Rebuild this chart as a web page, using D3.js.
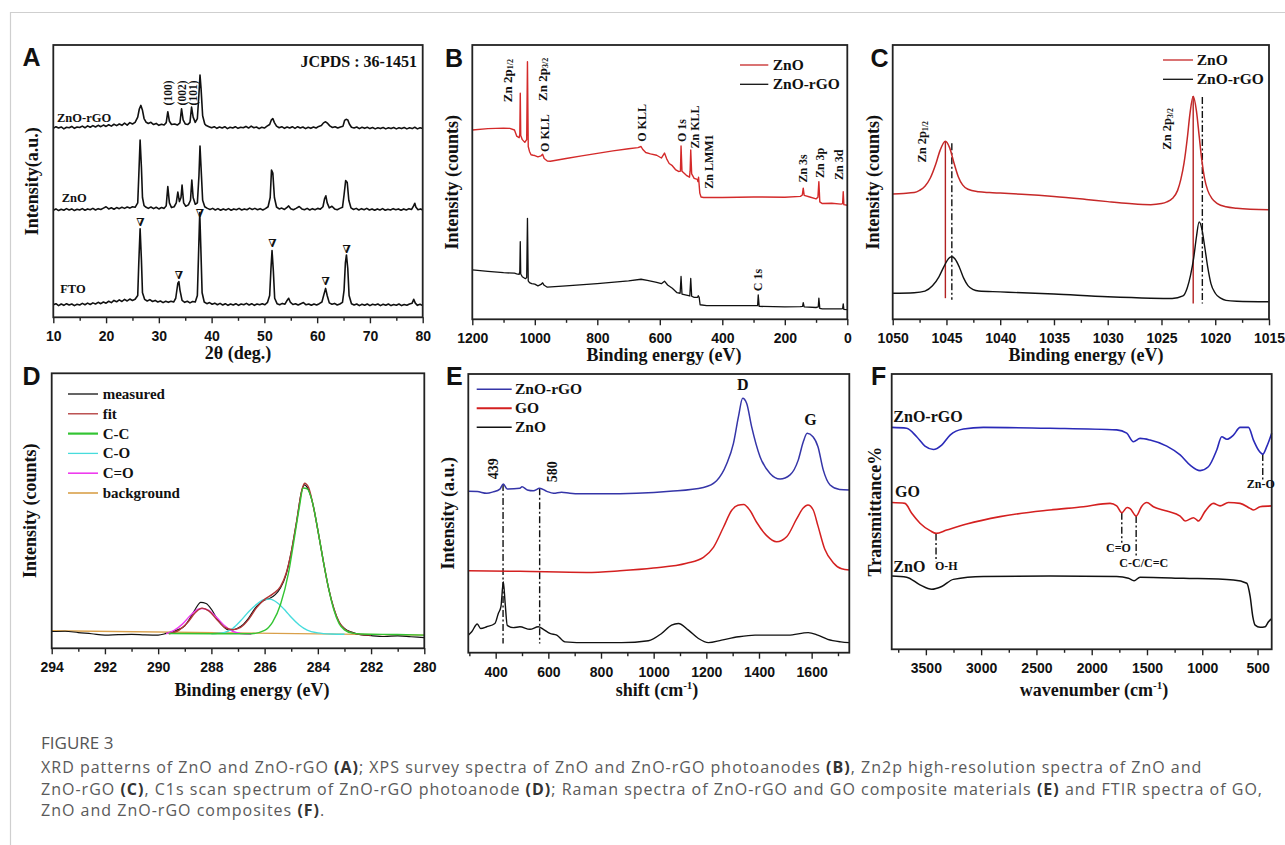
<!DOCTYPE html>
<html>
<head>
<meta charset="utf-8">
<script src="https://cdn.jsdelivr.net/npm/d3@7"></script>
<style>
	body { margin: 0; background: #fff; }
	svg { display: block; }
	.axis text { font-family: "Liberation Sans", Arial, sans-serif; font-weight: bold; font-size: 14px; fill: #111; }
	.axis line { stroke: #222; stroke-width: 1.4; }
</style>
</head>
<body>
<div id="chartDiv"></div>
<script>

// ---------- data (x value, intensity in % of plot height) ----------

// A: XRD
var xrdZnOrGO = [[10,69.4],[10.5,70.0],[11,69.5],[11.5,69.9],[12,69.2],[12.5,69.8],[13,69.6],[13.5,70.1],[14,69.4],[14.5,69.9],[15,69.7],[15.5,70.2],[16,69.6],[16.5,70.3],[17,69.8],[17.5,70.4],[18,69.9],[18.5,70.5],[19,70.0],[19.5,70.6],[20,70.1],[20.5,70.7],[21,70.2],[21.5,70.9],[22,70.4],[22.5,71.0],[23,70.5],[23.5,71.3],[24,70.6],[24.5,71.5],[25,71.0],[25.5,71.6],[26,73.5],[26.3,76.5],[26.6,77.8],[26.9,76.0],[27.2,73],[27.6,71.6],[28,71.2],[28.5,71.6],[29,70.8],[29.5,71.2],[30,70.5],[30.5,70.9],[31,70.6],[31.4,71.5],[31.7,75.5],[32,72],[32.4,70.8],[33,71.0],[33.5,70.6],[34,71.4],[34.3,76.6],[34.6,72.5],[35,71.0],[35.5,70.8],[35.9,71.6],[36.2,77.2],[36.5,73.5],[36.9,71.6],[37.3,73],[37.6,82],[37.8,89],[38.0,84],[38.3,74],[38.7,71],[39,70.4],[39.5,70.0],[40,69.6],[40.5,70.0],[41,69.4],[41.5,69.9],[42,69.5],[42.5,70.0],[43,69.3],[43.5,69.8],[44,69.5],[44.5,70.0],[45,69.4],[45.5,69.8],[46,69.6],[46.5,70.1],[47,69.5],[47.5,70.2],[48,69.6],[48.5,69.9],[49,69.3],[49.5,69.8],[50,69.5],[50.5,70.2],[51,70.8],[51.3,72.4],[51.6,73],[51.9,71.5],[52.3,70.2],[52.8,69.6],[53.3,70.0],[53.8,69.4],[54.3,69.9],[54.8,69.5],[55.3,70.0],[55.8,69.4],[56.3,70.0],[56.8,69.5],[57.3,69.9],[57.8,69.3],[58.3,69.8],[58.8,69.4],[59.3,69.9],[59.8,69.5],[60.3,70.1],[60.8,70.4],[61.2,71.4],[61.6,71.8],[62,71.2],[62.4,70.3],[62.9,69.7],[63.4,70.0],[63.9,69.5],[64.4,69.9],[64.9,70.2],[65.2,72.3],[65.5,72.7],[65.8,72.5],[66.1,71],[66.5,69.8],[67,69.5],[67.5,69.9],[68,69.3],[68.5,69.8],[69,69.4],[69.5,69.8],[70,69.3],[70.5,69.7],[71,69.2],[71.5,69.6],[72,69.3],[72.5,69.7],[73,69.2],[73.5,69.6],[74,69.3],[74.5,69.7],[75,69.2],[75.5,69.6],[76,69.3],[76.5,69.7],[77,69.2],[77.5,69.6],[78,69.3],[78.5,69.8],[79,69.2],[79.5,69.6],[80,69.3]]

var xrdZnO = [[10,39.3],[10.5,39.8],[11,39.2],[11.5,39.7],[12,39.3],[12.5,39.9],[13,39.4],[13.5,39.8],[14,39.2],[14.5,39.7],[15,39.4],[15.5,39.9],[16,39.3],[16.5,39.8],[17,39.5],[17.5,40.0],[18,39.4],[18.5,39.9],[19,39.6],[19.5,40.1],[20,40.6],[20.5,39.8],[21,40.2],[21.5,39.7],[22,40.3],[22.5,39.9],[23,40.4],[23.5,40.0],[24,40.5],[24.5,40.1],[25,40.6],[25.5,40.4],[26,42],[26.2,52],[26.45,65.1],[26.7,55],[26.9,44],[27.2,41],[27.6,40.4],[28,40.0],[28.5,40.5],[29,39.9],[29.5,40.4],[30,39.8],[30.5,40.3],[31,40.0],[31.4,41],[31.7,48],[32,42],[32.4,40.3],[32.9,40.6],[33.3,42],[33.6,46],[33.9,42.5],[34.2,44],[34.4,48.6],[34.7,42],[35.1,40.8],[35.6,41.3],[36,43],[36.25,50.4],[36.5,44],[36.9,41.5],[37.3,42],[37.6,52],[37.8,62.9],[38.0,55],[38.3,43],[38.7,40.6],[39.2,40.0],[39.7,39.6],[40.2,40.0],[40.7,39.4],[41.2,39.9],[41.7,39.3],[42.2,39.8],[42.7,39.4],[43.2,39.9],[43.7,39.3],[44.2,39.8],[44.7,39.5],[45.2,40.0],[45.7,39.4],[46.2,39.8],[46.7,39.5],[47.2,40.1],[47.7,39.6],[48.2,40.0],[48.7,39.5],[49.2,39.9],[49.7,39.4],[50.2,39.9],[50.7,40.6],[51.1,44],[51.35,54.1],[51.6,53],[51.9,44],[52.3,40.5],[52.8,39.8],[53.3,40.1],[53.8,39.6],[54.3,40.4],[54.6,40.9],[55,39.9],[55.5,39.5],[56,40.0],[56.6,40.7],[57.1,39.8],[57.6,39.5],[58.1,40.0],[58.6,39.4],[59.1,39.9],[59.6,39.5],[60.1,40.0],[60.6,39.7],[61.1,40.6],[61.4,43.5],[61.65,44.6],[61.9,42],[62.3,40.2],[62.8,40.8],[63.3,39.8],[63.8,39.5],[64.3,40.0],[64.8,40.4],[65.1,45],[65.4,50.2],[65.7,49.5],[66,43],[66.4,40.2],[66.9,39.6],[67.4,40.0],[67.9,39.4],[68.4,39.9],[68.9,39.5],[69.4,40.0],[69.9,39.4],[70.4,39.8],[70.9,39.3],[71.4,39.8],[71.9,39.4],[72.4,39.9],[72.9,39.3],[73.4,39.7],[73.9,39.4],[74.4,39.9],[74.9,39.5],[75.4,39.8],[75.9,39.3],[76.4,39.8],[76.9,39.4],[77.4,39.9],[77.9,39.6],[78.3,41],[78.5,41.9],[78.7,40.5],[79.1,39.5],[79.6,39.8],[80,39.4]]

var xrdFTO = [[10,4.6],[10.5,5.0],[11,4.3],[11.5,4.9],[12,4.4],[12.5,5.0],[13,4.5],[13.5,4.9],[14,4.3],[14.5,4.8],[15,4.5],[15.5,5.1],[16,4.6],[16.5,5.2],[17,4.7],[17.5,5.3],[18,4.9],[18.5,5.5],[19,5.0],[19.5,5.6],[20,5.2],[20.5,5.9],[21,5.4],[21.5,6.2],[22,5.7],[22.5,6.4],[23,5.8],[23.5,6.6],[24,6.0],[24.5,6.7],[25,6.2],[25.5,6.6],[26,8],[26.2,20],[26.45,32.5],[26.7,21],[26.9,9],[27.3,6.6],[27.8,6.0],[28.3,6.5],[28.8,5.8],[29.3,6.2],[29.8,5.6],[30.3,6.0],[30.8,5.4],[31.3,5.9],[31.8,5.5],[32.3,5.9],[32.8,5.6],[33.2,7],[33.6,12.5],[33.8,13.1],[34.0,10],[34.4,6.2],[34.9,5.5],[35.4,5.9],[35.9,5.3],[36.4,5.8],[36.9,5.6],[37.3,8],[37.55,25],[37.75,38.5],[37.95,26],[38.2,9],[38.6,5.6],[39.1,5.0],[39.6,5.4],[40.1,4.8],[40.6,5.2],[41.1,4.6],[41.6,5.1],[42.1,4.5],[42.6,5.0],[43.1,4.4],[43.6,4.9],[44.1,4.5],[44.6,5.0],[45.1,4.4],[45.6,4.9],[46.1,4.6],[46.6,5.1],[47.1,4.5],[47.6,5.0],[48.1,4.4],[48.6,4.9],[49.1,4.6],[49.6,5.0],[50.1,4.6],[50.6,5.5],[51.0,8],[51.25,18],[51.45,24.5],[51.7,17],[51.95,7],[52.4,5.0],[52.9,4.6],[53.4,5.1],[53.9,4.8],[54.3,6.2],[54.6,7.0],[54.9,5.6],[55.4,4.7],[55.9,5.0],[56.4,4.5],[56.9,5.0],[57.4,5.4],[57.9,4.6],[58.4,4.9],[58.9,4.4],[59.4,4.9],[59.9,4.5],[60.4,5.0],[60.9,5.6],[61.3,8.5],[61.6,10.6],[61.9,8],[62.3,5.3],[62.8,4.8],[63.3,5.1],[63.8,4.5],[64.3,4.9],[64.8,5.5],[65.1,10],[65.35,20],[65.55,22.9],[65.8,18],[66.05,8],[66.5,5.0],[67,4.5],[67.5,4.9],[68,4.3],[68.5,4.8],[69,4.4],[69.5,4.9],[70,4.3],[70.5,4.8],[71,4.5],[71.5,4.9],[72,4.3],[72.5,4.8],[73,4.4],[73.5,4.9],[74,4.3],[74.5,4.7],[75,4.4],[75.5,4.9],[76,4.3],[76.5,4.7],[77,4.4],[77.5,4.9],[78,5.2],[78.3,6.6],[78.6,5.2],[79,4.4],[79.5,4.8],[80,4.3]]

var ftoMarks = [[26.5,34.8],[33.8,15.2],[37.8,38.3],[51.5,27],[61.6,13],[65.6,25]]
var hklLabels = [["(100)",31.8],["(002)",34.3],["(101)",36.4]]
var xrdNames = [["ZnO-rGO",10.7,71.8],["ZnO",11.6,42.5],["FTO",11.3,8.9]]

// B: XPS survey
var xpsZnO = [[1200,69.0],[1150,69.5],[1100,69.7],[1080,69.6],[1065,69.0],[1058,66.8],[1050,66.2],[1048,67.5],[1046.5,82.4],[1045,67],[1040,65.5],[1032,64.5],[1026,65.5],[1023.5,93.9],[1021,63],[1017,61.2],[1012,60.0],[1005,59.8],[1000,59.7],[990,59.2],[980,59.6],[975,60.2],[970,58.6],[960,57.7],[950,57.6],[900,58.6],[850,59.6],[800,60.5],[750,61.4],[700,62.2],[670,62.6],[660,63.0],[655,62.0],[645,60.8],[630,60.3],[610,59.8],[595,58.8],[585,60.6],[578,58.5],[570,56.8],[560,56.0],[550,54.6],[540,53.9],[534,54.0],[532,63.2],[529,54.0],[515,52.5],[505,51.8],[503,54],[501,61.7],[498,53],[490,51.4],[480,51.0],[478,50.2],[477,50.8],[476,51.8],[472,46.0],[468,44.6],[460,44.4],[400,44.4],[300,44.6],[200,44.5],[150,44.8],[144,45.3],[141,47.8],[138,45.2],[120,44.6],[100,43.9],[94,44.5],[91,50.2],[88,42.8],[80,42.2],[50,42.3],[20,42.0],[15,42.2],[13,46.5],[11,41.8],[0,41.6]]
var xpsZnOrGO = [[1200,18.0],[1150,17.5],[1100,17.0],[1065,16.8],[1058,16.6],[1050,16.4],[1048,17.5],[1046.5,28.3],[1045,16.5],[1040,15.5],[1030,14.8],[1026,15.2],[1023.5,36.8],[1021,14],[1017,13.4],[1010,13.0],[1000,12.8],[990,12.2],[980,12.7],[975,13.3],[970,12.4],[960,11.7],[900,12.2],[800,13.0],[700,14.0],[660,14.6],[640,14.2],[610,13.5],[595,13.0],[585,13.9],[575,12.5],[560,11.3],[545,9.7],[535,9.5],[532,15.6],[529,9.2],[515,8.8],[504,8.5],[501,14.9],[498,8.4],[490,8.0],[479,8.0],[477,8.6],[474,8.0],[471,5.3],[450,5.0],[350,5.0],[295,5.0],[287,5.0],[285,8.9],[282,4.7],[200,4.5],[150,4.6],[143,4.7],[141,6.1],[138,4.5],[100,4.3],[93,4.5],[91,7.7],[88,4.0],[80,3.8],[20,3.8],[15,3.9],[13,5.6],[11,3.6],[0,3.5]]
var xpsLabels = [
	["Zn 2p","1/2",1088,87,13],["Zn 2p","3/2",978,87.5,13],["O KLL","",967,67.9,12],
	["O KLL","",658,71.6,12],["O 1s","",530,68.8,12],["Zn KLL","",487,70.1,12],
	["Zn LMM1","",442,57.5,12],["Zn 3s","",143,55,12],["Zn 3p","",87,57,12],
	["Zn 3d","",26,56.3,12],["C 1s","",285,14.3,12]
]

// C: Zn 2p
var zn2pZnO = [[1050,45.7],[1049,45.9],[1048,46.2],[1047.5,47.0],[1047,48.5],[1046.5,51.5],[1046,56.5],[1045.6,61.5],[1045.1,64.9],[1044.7,62.5],[1044.3,57],[1043.9,52],[1043.5,49],[1043,47.4],[1042,46.5],[1041,46.2],[1040,46.0],[1038,45.6],[1035,44.8],[1032,43.7],[1030,42.9],[1028,42.2],[1026,41.8],[1025,42.2],[1024.5,42.8],[1024,44],[1023.5,47],[1023.2,51],[1022.9,57],[1022.6,66],[1022.35,75],[1022.05,81.3],[1021.75,76],[1021.5,67],[1021.25,58],[1021,51.5],[1020.7,47],[1020.3,44],[1019.8,42.2],[1019,41],[1018,40.5],[1015,39.9]]
var zn2pZnOrGO = [[1050,9.5],[1048,9.7],[1047,10.3],[1046.3,12.2],[1045.7,15.5],[1045.2,19.5],[1044.8,22.2],[1044.5,22.8],[1044.2,22],[1043.8,19],[1043.4,15],[1043,12.3],[1042.5,10.8],[1042,10.3],[1040,10.0],[1035,9.2],[1030,8.2],[1026,7.7],[1024,7.6],[1023,8.5],[1022.6,11.5],[1022.3,16],[1022,22.5],[1021.75,30],[1021.5,35.5],[1021.25,33],[1021,27],[1020.7,19],[1020.4,13],[1020,9.5],[1019.5,7.7],[1019,6.9],[1018,6.6],[1015,6.4]]
var zn2pLinesZnO = [[1045.1,65,7.7],[1022.05,81.4,5.8]]
var zn2pLinesZnOrGO = [[1044.5,64.2,7.1],[1021.2,81,5.8]]
var zn2pLabels = [["Zn 2p","1/2",1047.3,64.7],["Zn 2p","3/2",1024.5,69.4]]

// D: C1s
var c1sMeasured = [[294,6.1],[293.5,6.2],[293,5.7],[292.5,5.3],[292,4.8],[291.5,5.0],[291,5.1],[290.5,4.9],[290,4.8],[289.7,5.4],[289.3,6.6],[289,8.2],[288.8,11],[288.6,14.3],[288.4,16.7],[288.2,16.3],[288,14.2],[287.8,11],[287.6,8.5],[287.4,6.8],[287.2,6.7],[287,7.4],[286.8,8.7],[286.6,11],[286.4,14],[286.2,16.2],[286,17.6],[285.8,18.2],[285.6,19.5],[285.4,22],[285.2,26.6],[285,35],[284.8,46],[284.6,57.5],[284.5,59.4],[284.4,58.5],[284.2,53],[284,43],[283.8,32],[283.6,22],[283.4,14.5],[283.2,9.5],[283,7.2],[282.7,5.8],[282.4,5.0],[282,4.6],[281.5,4.3],[281,4.5],[280.5,4.2],[280,3.9]]
var c1sFit = [[289.6,5.3],[289.2,6.7],[288.9,9.3],[288.6,13],[288.35,14.6],[288.1,13.6],[287.8,10.5],[287.5,7.6],[287.2,6.8],[286.9,7.6],[286.6,10.5],[286.3,14.8],[286,17.8],[285.7,19.7],[285.4,22.5],[285.2,27],[285,35],[284.8,46],[284.6,57.5],[284.5,60],[284.35,58.5],[284.2,53],[284,43],[283.8,32],[283.6,22],[283.4,14.5],[283.2,9.5],[283,7],[282.7,5.6],[282.4,5],[282,4.8]]
var c1sCC = [[289.6,5.4],[287,5.3],[286.5,5.3],[286,6.5],[285.7,9.5],[285.4,16],[285.1,27.5],[284.9,39],[284.7,51],[284.55,58.3],[284.4,58],[284.2,53],[284,43],[283.8,32],[283.6,22],[283.4,14],[283.2,9],[283,6.7],[282.7,5.5],[282.4,5.2],[281,5.0],[280,4.8]]
var c1sCO = [[288,5.3],[287.5,5.8],[287.2,7.2],[286.9,10],[286.6,13.3],[286.3,16],[286,17.8],[285.8,17.9],[285.5,16.4],[285.2,13.5],[285,11.3],[284.7,8.5],[284.4,6.6],[284,5.6],[283.5,5.2],[283,5.1]]
var c1sCdO = [[289.7,5.3],[289.4,6.5],[289.1,8.7],[288.8,11.8],[288.5,14.2],[288.35,14.5],[288.1,13.8],[287.8,11.2],[287.5,8.2],[287.2,6.2],[286.9,5.4],[286.5,5.1]]
var c1sBackground = [[294,6.4],[280,4.8]]
var c1sNames = ["measured","fit","C-C","C-O","C=O","background"]

// E: Raman
var ramanZnOrGO = [[296,57.9],[330,57.8],[366,57.2],[390,57.7],[416,58.7],[429,60.5],[444,58.7],[492,59.0],[500,59.5],[520,58.4],[543,58.1],[567,59.0],[594,57.9],[620,57.2],[650,57.6],[682,57.2],[720,57.0],[809,57.0],[935,57.2],[1062,57.9],[1189,59.3],[1239,61.7],[1277,67.7],[1303,75.1],[1322,84.7],[1338,91.3],[1353,89.5],[1372,81.1],[1404,70.3],[1442,64.3],[1480,62.3],[1518,63.8],[1549,69.1],[1568,75.6],[1583,78.7],[1605,77.5],[1624,73.9],[1644,65.6],[1670,60.2],[1706,58.6],[1743,58.4]]
var ramanGO = [[296,29.4],[492,29.2],[745,28.8],[872,29.4],[999,30.4],[1125,32.1],[1189,34.2],[1227,37.8],[1265,45.0],[1296,51.0],[1320,52.9],[1342,53.2],[1366,51.0],[1391,46.8],[1429,42.0],[1467,39.8],[1505,41.6],[1543,48.0],[1568,51.9],[1586,53.0],[1606,51.2],[1624,45.5],[1650,37.1],[1682,32.3],[1714,30.1],[1743,29.7]]
var ramanZnO = [[296,6.3],[309,7.5],[330,10.3],[343,8.7],[366,9.3],[397,10.5],[410,14.1],[420,16.5],[429,25.5],[436,17.7],[444,9.8],[467,9.0],[492,9.3],[530,8.4],[562,9.3],[581,8.4],[606,6.9],[632,6.3],[663,3.9],[752,3.6],[878,3.6],[980,4.3],[1030,6.9],[1068,9.9],[1094,10.5],[1132,8.1],[1170,5.1],[1208,3.6],[1258,4.5],[1322,5.7],[1385,6.3],[1448,6.3],[1511,6.3],[1587,7.2],[1623,6.3],[1661,4.8],[1711,3.9],[1743,3.6]]
var ramanMarks = [[428,60.5,3.3],[567,59,3.3]]
var ramanNames = ["ZnO-rGO","GO","ZnO"]

// F: FTIR
var ftirZnOrGO = [[3809,80.6],[3674,80.3],[3583,77.2],[3508,73.8],[3432,72.6],[3357,74.2],[3281,77.8],[3160,80.0],[2980,80.6],[2377,80.3],[1774,79.7],[1683,78.5],[1623,75.4],[1563,76.6],[1472,76.0],[1321,73.8],[1200,70.6],[1110,66.9],[1020,64.9],[945,66.3],[869,72.4],[824,77.2],[778,76.3],[718,77.8],[658,80.6],[582,80.6],[537,76.0],[492,72.4],[453,70.9],[417,73.6],[372,78.5]]
var ftirGO = [[3809,53.3],[3689,53.0],[3628,49.4],[3553,45.8],[3462,43.1],[3408,42.1],[3312,43.3],[3131,45.5],[2829,48.2],[2377,50.6],[2075,51.8],[1834,53.0],[1774,52.1],[1728,49.6],[1680,51.5],[1653,51.1],[1598,48.4],[1547,52.0],[1502,53.3],[1442,51.8],[1321,50.2],[1200,48.4],[1155,46.6],[1080,47.8],[1050,47.0],[1035,46.6],[975,50.1],[900,53.0],[839,52.1],[764,53.3],[658,53.0],[567,51.2],[537,50.6],[477,51.8],[372,52.1]]
var ftirZnO = [[3809,26.6],[3674,26.2],[3553,23.4],[3447,21.8],[3357,22.8],[3251,25.4],[2980,26.4],[2377,26.6],[1774,26.4],[1668,25.8],[1617,24.9],[1563,26.2],[1170,25.8],[718,25.2],[597,24.0],[567,19.2],[543,11.9],[522,8.8],[477,8.0],[431,8.2],[401,10.0],[372,11.2]]
var ftirMarks = [[3408,42.1,31.8],[1728,49.6,38.7],[1598,48.4,33.7],[453,70.9,61.3]]
var ftirNames = [["ZnO-rGO",3794,82.7],["GO",3779,55.4],["ZnO",3794,28.2]]
var ftirBands = [["O-H",3417,28.8,"start"],["C=O",1870,35.5,"start"],["C-C/C=C",1750,30,"start"],["Zn-O",470,58.5,"middle"]]

// caption
var captionTitle = "FIGURE 3"
var captionLines = [
	"XRD patterns of ZnO and ZnO-rGO **(A)**; XPS survey spectra of ZnO and ZnO-rGO photoanodes **(B)**, Zn2p high-resolution spectra of ZnO and",
	"ZnO-rGO **(C)**, C1s scan spectrum of ZnO-rGO photoanode **(D)**; Raman spectra of ZnO-rGO and GO composite materials **(E)** and FTIR spectra of GO,",
	"ZnO and ZnO-rGO composites **(F)**."
]

// ---------- drawing ----------

var serif = '"Liberation Serif","Times New Roman",serif'
var sans = '"Liberation Sans",Arial,sans-serif'
var dashDot = "7,2.5,2,2.5"

var svg = d3.select("#chartDiv").append("svg")
	.attr("width", 1285)
	.attr("height", 845)

svg.append("rect").attr("width", 1285).attr("height", 845).attr("fill", "#fff")
svg.append("path").attr("d", "M10.5,845V12.5H1285")
	.attr("fill", "none").attr("stroke", "#cfcfcf").attr("stroke-width", 1.2)

function steps(a, b, s) {
	return d3.range(a, b + s / 2, s)
}

function makePanel(p) {
	var g = svg.append("g")
	var x = d3.scaleLinear().domain(p.xDomain).range([p.left, p.right])
	var y = d3.scaleLinear().domain([0, 100]).range([p.bottom, p.top])
	var plot = g.append("g")

	g.append("g").attr("class", "axis")
		.attr("transform", "translate(0," + p.bottom + ")")
		.call(d3.axisBottom(x).tickValues(p.minor).tickSize(3.5).tickFormat(""))
	g.append("g").attr("class", "axis")
		.attr("transform", "translate(0," + p.bottom + ")")
		.call(d3.axisBottom(x).tickValues(p.major).tickSize(6).tickPadding(8).tickFormat(d3.format("d")))
	g.selectAll(".domain").remove()

	g.append("rect")
		.attr("x", p.left).attr("y", p.top)
		.attr("width", p.right - p.left).attr("height", p.bottom - p.top)
		.attr("fill", "none").attr("stroke", "#222").attr("stroke-width", 1.8)

	// x title, with optional superscript part
	var xt = g.append("text")
		.attr("x", p.xTitleX).attr("y", p.xTitleY)
		.attr("text-anchor", "middle")
		.style("font-family", serif).style("font-weight", "bold").style("font-size", "18px")
		.attr("fill", "#111")
	xt.append("tspan").text(p.xTitle[0])
	if (p.xTitle.length > 1) {
		xt.append("tspan").attr("dy", -7).style("font-size", "11px").text(p.xTitle[1])
		xt.append("tspan").attr("dy", 7).text(p.xTitle[2])
	}

	g.append("text")
		.attr("transform", "translate(" + p.yTitleX + "," + ((p.top + p.bottom) / 2) + ") rotate(-90)")
		.attr("text-anchor", "middle")
		.attr("dominant-baseline", "central")
		.style("font-family", serif).style("font-weight", "bold").style("font-size", "18px")
		.attr("fill", "#111")
		.text(p.yTitle)

	g.append("text")
		.attr("x", p.letterX).attr("y", p.letterY)
		.style("font-family", sans).style("font-weight", "bold").style("font-size", "25px")
		.attr("fill", "#111")
		.text(p.letter)

	return { g: g, plot: plot, x: x, y: y, p: p }
}

function drawLine(P, data, color, width, curve) {
	P.plot.append("path")
		.datum(data)
		.attr("fill", "none")
		.attr("stroke", color)
		.attr("stroke-width", width)
		.attr("stroke-linejoin", "round")
		.attr("d", d3.line()
			.x(function(d) { return P.x(d[0]) })
			.y(function(d) { return P.y(d[1]) })
			.curve(curve || d3.curveLinear))
}

function drawMarks(P, marks, color, dash) {
	P.plot.selectAll(null).data(marks).enter().append("line")
		.attr("x1", function(d) { return P.x(d[0]) })
		.attr("x2", function(d) { return P.x(d[0]) })
		.attr("y1", function(d) { return P.y(d[1]) })
		.attr("y2", function(d) { return P.y(d[2]) })
		.attr("stroke", color)
		.attr("stroke-width", 1.4)
		.attr("stroke-dasharray", dash || null)
}

// rotated label, optional subscript
function vLabel(P, main, sub, xv, yv, size) {
	var t = P.g.append("text")
		.attr("transform", "translate(" + P.x(xv) + "," + P.y(yv) + ") rotate(-90)")
		.attr("text-anchor", "middle")
		.attr("dominant-baseline", "central")
		.style("font-family", serif).style("font-weight", "bold").style("font-size", size + "px")
		.attr("fill", "#111")
	t.append("tspan").text(main)
	if (sub) t.append("tspan").attr("dy", 3).style("font-size", (size * 0.62) + "px").text(sub)
}

function label(P, txt, xv, yv, size, anchor) {
	P.g.append("text")
		.attr("x", P.x(xv)).attr("y", P.y(yv))
		.attr("text-anchor", anchor || "start")
		.style("font-family", serif).style("font-weight", "bold").style("font-size", size + "px")
		.attr("fill", "#111")
		.text(txt)
}

function legend(P, names, colors, widths, x1, x2, tx, y0, step, size) {
	names.forEach(function(n, i) {
		var yy = y0 + i * step
		P.g.append("line").attr("x1", x1).attr("x2", x2).attr("y1", yy).attr("y2", yy)
			.attr("stroke", colors[i]).attr("stroke-width", widths[i])
		P.g.append("text").attr("x", tx).attr("y", yy + size * 0.33)
			.style("font-family", serif).style("font-weight", "bold").style("font-size", size + "px")
			.attr("fill", "#111").text(n)
	})
}

// ---- A
var A = makePanel({ left: 53.3, right: 422.7, top: 45, bottom: 317.3, xDomain: [10, 80],
	major: steps(10, 80, 10), minor: steps(15, 75, 10),
	xTitle: ["2θ (deg.)"], xTitleX: 238, xTitleY: 359,
	yTitle: "Intensity(a.u.)", yTitleX: 32, letter: "A", letterX: 22.5, letterY: 65.7 })
drawLine(A, xrdZnOrGO, "#111", 1.6)
drawLine(A, xrdZnO, "#111", 1.6)
drawLine(A, xrdFTO, "#111", 1.6)
xrdNames.forEach(function(d) { label(A, d[0], d[1], d[2], 12.5) })
label(A, "JCPDS : 36-1451", 78.9, 91.9, 16, "end")
hklLabels.forEach(function(d) { vLabel(A, d[0], "", d[1], 82.4, 11.5) })
A.g.selectAll(null).data(ftoMarks).enter().append("text")
	.attr("x", function(d) { return A.x(d[0]) })
	.attr("y", function(d) { return A.y(d[1]) })
	.attr("text-anchor", "middle").attr("dominant-baseline", "central")
	.style("font-family", '"DejaVu Serif",serif').style("font-size", "11px").style("font-weight", "bold")
	.attr("fill", "#111").text("∇")

// ---- B
var B = makePanel({ left: 472.3, right: 847.3, top: 45, bottom: 319.3, xDomain: [1200, 0],
	major: steps(0, 1200, 200), minor: steps(100, 1100, 200),
	xTitle: ["Binding energy (eV)"], xTitleX: 664, xTitleY: 361,
	yTitle: "Intensity (counts)", yTitleX: 452.3, letter: "B", letterX: 445, letterY: 66.7 })
drawLine(B, xpsZnOrGO, "#111", 1.3)
drawLine(B, xpsZnO, "#d42a2a", 1.4)
xpsLabels.forEach(function(d) { vLabel(B, d[0], d[1], d[2], d[3], d[4]) })
legend(B, ["ZnO", "ZnO-rGO"], ["#c62828", "#111"], [1.3, 1.3], 740, 768.3, 772.7, 65, 19.3, 15.5)

// ---- C
var C = makePanel({ left: 892.7, right: 1269, top: 45, bottom: 319.3, xDomain: [1050, 1015],
	major: steps(1015, 1050, 5), minor: steps(1017.5, 1047.5, 5),
	xTitle: ["Binding energy (eV)"], xTitleX: 1086, xTitleY: 361,
	yTitle: "Intensity (counts)", yTitleX: 873.3, letter: "C", letterX: 870.5, letterY: 66.7 })
drawMarks(C, zn2pLinesZnO, "#b22222")
drawMarks(C, zn2pLinesZnOrGO, "#111", dashDot)
drawLine(C, zn2pZnOrGO, "#111", 1.4, d3.curveMonotoneX)
drawLine(C, zn2pZnO, "#c62828", 1.5, d3.curveMonotoneX)
zn2pLabels.forEach(function(d) { vLabel(C, d[0], d[1], d[2], d[3], 12.5) })
legend(C, ["ZnO", "ZnO-rGO"], ["#c62828", "#111"], [1.3, 1.3], 1163, 1193, 1196.7, 60, 19.3, 15.5)

// ---- D
var D = makePanel({ left: 51.7, right: 424.3, top: 373.3, bottom: 648.3, xDomain: [294, 280],
	major: steps(280, 294, 2), minor: steps(281, 293, 2),
	xTitle: ["Binding energy (eV)"], xTitleX: 252, xTitleY: 696,
	yTitle: "Intensity (counts)", yTitleX: 30, letter: "D", letterX: 22.5, letterY: 385 })
var c1sColors = ["#111", "#b03636", "#33c433", "#47dcdc", "#ee3cee", "#d9a04a"]
drawLine(D, c1sBackground, c1sColors[5], 1.4)
drawLine(D, c1sMeasured, c1sColors[0], 1.2, d3.curveMonotoneX)
drawLine(D, c1sCdO, c1sColors[4], 1.4, d3.curveMonotoneX)
drawLine(D, c1sCO, c1sColors[3], 1.4, d3.curveMonotoneX)
drawLine(D, c1sFit, c1sColors[1], 1.4, d3.curveMonotoneX)
drawLine(D, c1sCC, c1sColors[2], 1.4, d3.curveMonotoneX)
legend(D, c1sNames, c1sColors, [1.3, 1.3, 2.2, 1.3, 1.6, 1.6], 68, 98, 102.7, 394, 19.8, 15)

// ---- E
var E = makePanel({ left: 468.3, right: 849.3, top: 374, bottom: 652.7, xDomain: [296, 1743],
	major: steps(400, 1600, 200), minor: steps(300, 1700, 200),
	xTitle: ["shift (cm", "-1", ")"], xTitleX: 657, xTitleY: 696,
	yTitle: "Intensity (a.u.)", yTitleX: 448.3, letter: "E", letterX: 446, letterY: 385 })
drawMarks(E, ramanMarks, "#111", dashDot)
drawLine(E, ramanZnO, "#111", 1.4, d3.curveMonotoneX)
drawLine(E, ramanGO, "#d42020", 1.5, d3.curveMonotoneX)
drawLine(E, ramanZnOrGO, "#3535a8", 1.5, d3.curveMonotoneX)
vLabel(E, "439", "", 388.6, 66, 14)
vLabel(E, "580", "", 612.7, 64.9, 14)
label(E, "D", 1338, 94.2, 16, "middle")
label(E, "G", 1596, 81.8, 16, "middle")
legend(E, ramanNames, ["#3535a8", "#d42020", "#111"], [1.4, 2, 1.4], 476.7, 511.7, 515, 389.3, 19, 15.5)

// ---- F
var F = makePanel({ left: 891.7, right: 1271.7, top: 374, bottom: 649.3, xDomain: [3809, 372],
	major: steps(500, 3500, 500), minor: steps(750, 3750, 500),
	xTitle: ["wavenumber (cm", "-1", ")"], xTitleX: 1094, xTitleY: 696,
	yTitle: "Transmittance%", yTitleX: 875, letter: "F", letterX: 871, letterY: 385 })
drawMarks(F, ftirMarks, "#111", dashDot)
drawLine(F, ftirZnO, "#111", 1.5, d3.curveMonotoneX)
drawLine(F, ftirGO, "#d42020", 1.6, d3.curveMonotoneX)
drawLine(F, ftirZnOrGO, "#2a2ab8", 1.6, d3.curveMonotoneX)
ftirNames.forEach(function(d) { label(F, d[0], d[1], d[2], 16) })
ftirBands.forEach(function(d) { label(F, d[0], d[1], d[2], 12, d[3]) })

// ---- caption
svg.append("text")
	.attr("x", 41).attr("y", 749)
	.style("font-family", '"Open Sans",sans-serif').style("font-size", "17px")
	.attr("fill", "#555")
	.text(captionTitle)

var capNodes = captionLines.map(function(line, i) {
	var t = svg.append("text")
		.attr("x", 41).attr("y", 773 + i * 21.5)
		.style("font-family", '"Open Sans",sans-serif').style("font-size", "16px")
		.attr("fill", "#5a5a5a")
	line.split("**").forEach(function(part, j) {
		var s = t.append("tspan").text(part)
		if (j % 2 == 1) s.style("font-weight", "bold").attr("fill", "#333")
	})
	return t
})
// keep the glyph height, widen the spacing so the long line fills its width
var w = capNodes[1].node().getComputedTextLength()
var ls = Math.max(0, (1222 - w) / captionLines[1].replace(/\*/g, "").length)
capNodes.forEach(function(t) { t.style("letter-spacing", ls + "px") })

</script>
</body>
</html>
